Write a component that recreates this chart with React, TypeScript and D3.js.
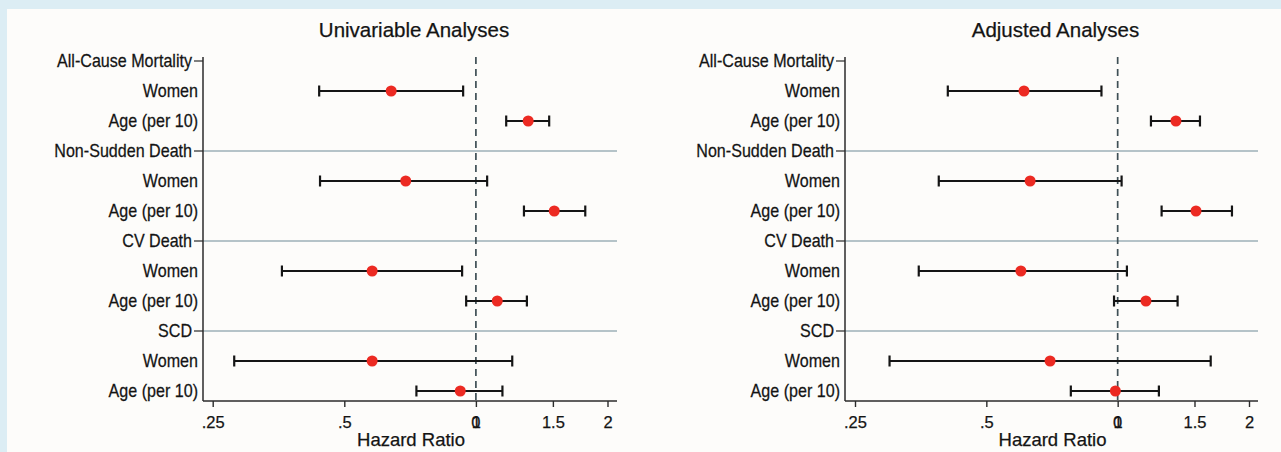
import * as d3 from 'd3'
import { useEffect, useRef } from 'react'

// rows top to bottom; headers carry no estimate
const rowLabels = [
  'All-Cause Mortality', 'Women', 'Age (per 10)',
  'Non-Sudden Death', 'Women', 'Age (per 10)',
  'CV Death', 'Women', 'Age (per 10)',
  'SCD', 'Women', 'Age (per 10)',
]
const headerRows = [0, 3, 6, 9]
const estimateRows = [1, 2, 4, 5, 7, 8, 10, 11]

// univariable hazard ratios (95% CI)
const uniHR = [0.64, 1.317, 0.691, 1.511, 0.579, 1.119, 0.579, 0.921]
const uniLo = [0.438, 1.173, 0.44, 1.288, 0.36, 0.95, 0.28, 0.731]
const uniHi = [0.935, 1.471, 1.061, 1.779, 0.93, 1.308, 1.211, 1.15]

// adjusted hazard ratios (95% CI)
const adjHR = [0.61, 1.36, 0.63, 1.512, 0.6, 1.161, 0.7, 0.988]
const adjLo = [0.408, 1.192, 0.389, 1.261, 0.35, 0.981, 0.3, 0.781]
const adjHi = [0.918, 1.544, 1.021, 1.828, 1.05, 1.372, 1.634, 1.243]

const tickValues = [0.25, 0.5, 1, 1.5, 2]
const tickLabels = ['.25', '.5', '1', '1.5', '2']

const titles = ['Univariable Analyses', 'Adjusted Analyses']
const axisTitle = 'Hazard Ratio'

const FONT = '"Liberation Sans", Arial, Helvetica, sans-serif'
const INK = '#141414'

export default function App() {
  const ref = useRef<SVGSVGElement>(null)

  useEffect(() => {
    const svg = d3.select(ref.current)
    svg.selectAll('*').remove()

    const W = 1281,
      H = 452

    svg.append('rect').attr('width', W).attr('height', H).attr('fill', '#dcedf4')
    svg
      .append('rect')
      .attr('x', 7)
      .attr('y', 9)
      .attr('width', W - 7)
      .attr('height', H - 9)
      .attr('fill', '#fdfcfa')

    const y = d3.scaleLinear().domain([0, 11]).range([61, 391])

    const panels = [
      { title: titles[0], hr: uniHR, lo: uniLo, hi: uniHi, axisX: 203, right: 617, range: [212.7, 607.5] },
      { title: titles[1], hr: adjHR, lo: adjLo, hi: adjHi, axisX: 845, right: 1258, range: [855, 1249] },
    ]

    const ink = (sel: any) => sel.attr('fill', INK).attr('stroke', INK).attr('stroke-width', 0.25)

    panels.forEach((p) => {
      const x = d3.scaleLog().base(2).domain([0.25, 2]).range(p.range)
      const g = svg.append('g').style('font-family', FONT)
      const yTop = 57,
        yBot = 401

      // title
      g.append('text')
        .attr('x', (p.axisX + p.right) / 2 + 4)
        .attr('y', 37)
        .attr('text-anchor', 'middle')
        .attr('font-size', 20.5)
        .call(ink)
        .text(p.title)

      // gray separators for groups (not the first)
      headerRows.slice(1).forEach((r) => {
        g.append('line')
          .attr('x1', p.axisX)
          .attr('x2', p.right)
          .attr('y1', y(r))
          .attr('y2', y(r))
          .attr('stroke', '#9cb0b7')
          .attr('stroke-width', 1.7)
      })

      // reference line at HR = 1
      g.append('line')
        .attr('x1', x(1))
        .attr('x2', x(1))
        .attr('y1', yTop)
        .attr('y2', yBot)
        .attr('stroke', '#3f4f55')
        .attr('stroke-width', 1.7)
        .attr('stroke-dasharray', '7,5')

      // y axis
      g.append('line')
        .attr('x1', p.axisX)
        .attr('x2', p.axisX)
        .attr('y1', yTop)
        .attr('y2', yBot)
        .attr('stroke', '#2b2b2b')
        .attr('stroke-width', 1.5)

      headerRows.forEach((r) => {
        g.append('line')
          .attr('x1', p.axisX - 9)
          .attr('x2', p.axisX)
          .attr('y1', y(r))
          .attr('y2', y(r))
          .attr('stroke', '#2b2b2b')
          .attr('stroke-width', 1.2)
      })

      // row labels: slightly condensed, taller type as in the source
      rowLabels.forEach((lab, i) => {
        const isHead = headerRows.includes(i)
        g.append('g')
          .attr('transform', `translate(${p.axisX - (isHead ? 11 : 5)},${y(i)}) scale(0.92,1)`)
          .append('text')
          .attr('dy', '0.36em')
          .attr('text-anchor', 'end')
          .attr('font-size', 17.5)
          .call(ink)
          .text(lab)
      })

      // x axis
      const axis = d3
        .axisBottom(x)
        .tickValues(tickValues)
        .tickFormat((d, i) => tickLabels[i])
        .tickSize(6)
        .tickPadding(9)
      const ax = g.append('g').attr('transform', `translate(0,${yBot})`).call(axis)
      ax.select('.domain').remove()
      ax.selectAll('.tick line').attr('stroke', '#2b2b2b').attr('stroke-width', 1.4)
      ax.selectAll('.tick text')
        .attr('font-size', 16.5)
        .attr('font-family', FONT)
        .call(ink)
      // the "1" label is printed over a "0" in the source figure
      ax.append('text')
        .attr('x', x(1))
        .attr('y', 15)
        .attr('dy', '0.71em')
        .attr('text-anchor', 'middle')
        .attr('font-size', 16.5)
        .attr('font-family', FONT)
        .call(ink)
        .text('0')
      g.append('line')
        .attr('x1', p.axisX)
        .attr('x2', p.right)
        .attr('y1', yBot)
        .attr('y2', yBot)
        .attr('stroke', '#2b2b2b')
        .attr('stroke-width', 1.5)

      g.append('text')
        .attr('x', (p.axisX + p.right) / 2 + 1)
        .attr('y', 446)
        .attr('text-anchor', 'middle')
        .attr('font-size', 18.5)
        .call(ink)
        .text(axisTitle)

      // confidence intervals and points
      estimateRows.forEach((r, i) => {
        const cy = y(r)
        g.append('line')
          .attr('x1', x(p.lo[i]))
          .attr('x2', x(p.hi[i]))
          .attr('y1', cy)
          .attr('y2', cy)
          .attr('stroke', '#151515')
          .attr('stroke-width', 2.2)
        ;[p.lo[i], p.hi[i]].forEach((v) => {
          g.append('line')
            .attr('x1', x(v))
            .attr('x2', x(v))
            .attr('y1', cy - 5.5)
            .attr('y2', cy + 5.5)
            .attr('stroke', '#151515')
            .attr('stroke-width', 2.2)
        })
        g.append('circle')
          .attr('cx', x(p.hr[i]))
          .attr('cy', cy)
          .attr('r', 5.5)
          .attr('fill', '#ec2a22')
      })
    })
  }, [])

  return (
    <svg
      ref={ref}
      width={1281}
      height={452}
      style={{ position: 'absolute', left: 0, top: 0, display: 'block' }}
    />
  )
}
